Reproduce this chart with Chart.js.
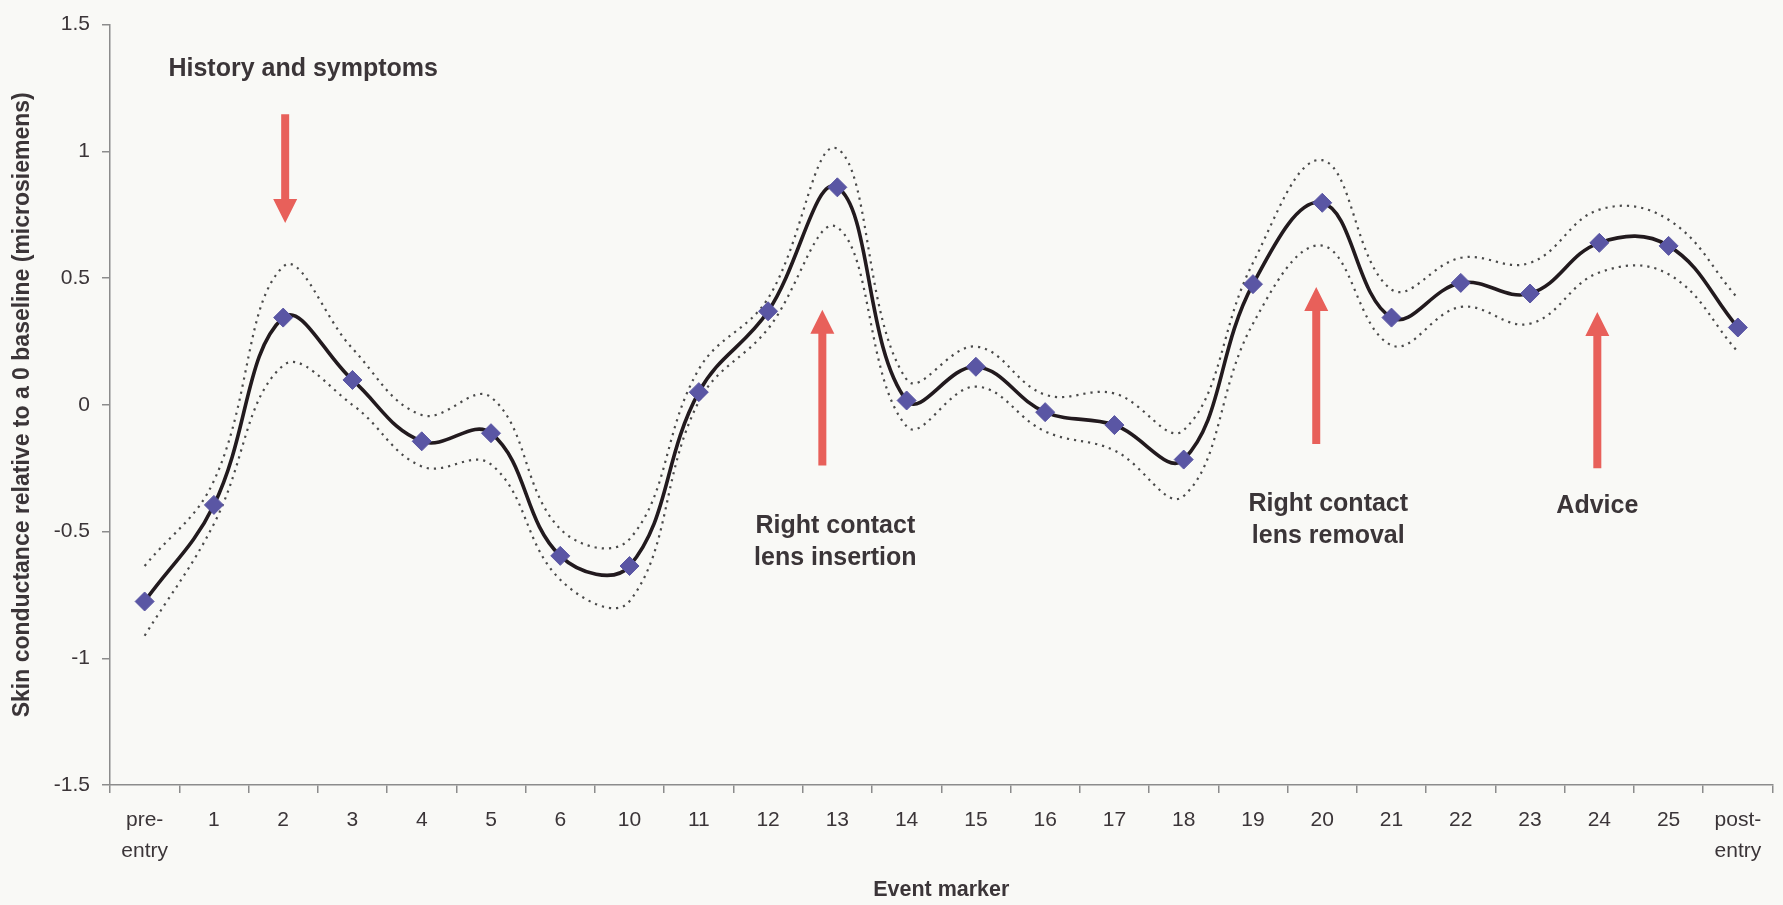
<!DOCTYPE html>
<html>
<head>
<meta charset="utf-8">
<title>Skin conductance by event marker</title>
<script src="https://cdn.jsdelivr.net/npm/chart.js@4.4.1/dist/chart.umd.min.js"></script>
<style>
  html, body { margin: 0; padding: 0; background: #f9f9f6; }
  #wrap { width: 1783px; height: 905px; position: relative; }
</style>
</head>
<body>
<div id="wrap"><canvas id="c" width="1783" height="905"></canvas></div>
<script>
// Event markers along the session
const categories = ['pre-entry', '1', '2', '3', '4', '5', '6', '10', '11', '12', '13', '14',
  '15', '16', '17', '18', '19', '20', '21', '22', '23', '24', '25', 'post-entry'];

// Mean skin conductance relative to a 0 baseline (microsiemens)
const conductance = [-0.776, -0.395, 0.344, 0.098, -0.144, -0.112, -0.596, -0.636, 0.050, 0.369,
  0.858, 0.017, 0.150, -0.029, -0.080, -0.216, 0.476, 0.797, 0.344, 0.481, 0.439, 0.639, 0.627, 0.305];

// Upper and lower confidence bounds
const upperBound = [-0.636, -0.300, 0.545, 0.222, -0.040, 0.030, -0.490, -0.530, 0.140, 0.420,
  1.010, 0.100, 0.230, 0.040, 0.045, -0.100, 0.560, 0.965, 0.455, 0.580, 0.560, 0.770, 0.730, 0.420];
const lowerBound = [-0.911, -0.470, 0.155, 0.000, -0.243, -0.235, -0.690, -0.775, 0.013, 0.300,
  0.700, -0.085, 0.072, -0.105, -0.180, -0.360, 0.320, 0.628, 0.235, 0.386, 0.320, 0.522, 0.515, 0.209];

// Value axis tick labels
const yTickValues = [-1.5, -1, -0.5, 0, 0.5, 1, 1.5];
const yTickLabels = ['-1.5', '-1', '-0.5', '0', '0.5', '1', '1.5'];

// Annotated events and the marker each one points at
const eventLabels = [['History and symptoms'], ['Right contact', 'lens insertion'],
  ['Right contact', 'lens removal'], ['Advice']];
const eventCategories = ['2', '13', '20', '24'];

const FONT = "'Liberation Sans', Arial, Helvetica, sans-serif";
const TEXT = '#3b3538';

// Arrow + caption layout for each event, in axis units (value) and pixel nudges
const eventLayout = [
  { dx: 2,   from: 1.146,  to: 0.717, textDx: 20, textValue: 1.325 },
  { dx: -15, from: -0.239, to: 0.375, textDx: -2, textValue: -0.478 },
  { dx: -6,  from: -0.155, to: 0.465, textDx: 6,  textValue: -0.392 },
  { dx: -2,  from: -0.250, to: 0.366, textDx: -2, textValue: -0.400 }
];

const background = {
  id: 'background',
  beforeDraw(chart) {
    const ctx = chart.ctx;
    ctx.save();
    ctx.fillStyle = '#f9f9f6';
    ctx.fillRect(0, 0, chart.width, chart.height);
    ctx.restore();
  }
};

const eventArrows = {
  id: 'eventArrows',
  afterDatasetsDraw(chart) {
    const { ctx, scales: { x, y } } = chart;
    ctx.save();
    eventCategories.forEach((cat, i) => {
      const lay = eventLayout[i];
      const cx = x.getPixelForValue(categories.indexOf(cat)) + lay.dx;
      const y0 = y.getPixelForValue(lay.from);
      const y1 = y.getPixelForValue(lay.to);
      const dir = Math.sign(y1 - y0);
      const headLen = 24, headHalf = 12, shaftHalf = 4;
      const yb = y1 - dir * headLen;
      ctx.fillStyle = '#e8605a';
      ctx.beginPath();
      ctx.moveTo(cx - shaftHalf, y0);
      ctx.lineTo(cx + shaftHalf, y0);
      ctx.lineTo(cx + shaftHalf, yb);
      ctx.lineTo(cx + headHalf, yb);
      ctx.lineTo(cx, y1);
      ctx.lineTo(cx - headHalf, yb);
      ctx.lineTo(cx - shaftHalf, yb);
      ctx.closePath();
      ctx.fill();

      const tx = x.getPixelForValue(categories.indexOf(cat)) + lay.textDx;
      const ty = y.getPixelForValue(lay.textValue);
      ctx.fillStyle = TEXT;
      ctx.font = 'bold 25px ' + FONT;
      ctx.textAlign = 'center';
      ctx.textBaseline = 'middle';
      eventLabels[i].forEach((line, k) => ctx.fillText(line, tx, ty + k * 32));
    });
    ctx.restore();
  }
};

new Chart(document.getElementById('c'), {
  type: 'line',
  data: {
    labels: categories,
    datasets: [
      {
        label: 'Skin conductance',
        data: conductance,
        borderColor: '#221a1e',
        borderWidth: 3.6,
        tension: 0.4,
        pointStyle: 'rectRot',
        pointRadius: 9.5,
        pointBackgroundColor: '#5a56a4',
        pointBorderColor: '#5a56a4',
        pointBorderWidth: 1,
        fill: false
      },
      {
        label: 'Upper bound',
        data: upperBound,
        borderColor: '#4a4a4a',
        borderWidth: 2.2,
        borderDash: [2.2, 5],
        tension: 0.4,
        pointRadius: 0,
        fill: false
      },
      {
        label: 'Lower bound',
        data: lowerBound,
        borderColor: '#4a4a4a',
        borderWidth: 2.2,
        borderDash: [2.2, 5],
        tension: 0.4,
        pointRadius: 0,
        fill: false
      }
    ]
  },
  options: {
    responsive: false,
    animation: false,
    devicePixelRatio: 1,
    layout: { padding: { top: 21.5, right: 0, bottom: 0, left: 0 } },
    plugins: {
      legend: { display: false },
      tooltip: { enabled: false }
    },
    scales: {
      x: {
        type: 'category',
        offset: true,
        grid: {
          display: true,
          drawOnChartArea: false,
          drawTicks: true,
          tickLength: 8,
          offset: true,
          color: '#8c8c8c',
          lineWidth: 1.5
        },
        border: { display: true, color: '#8c8c8c', width: 1.5 },
        ticks: {
          color: TEXT,
          font: { family: FONT, size: 21, lineHeight: 1.5 },
          padding: 11,
          maxRotation: 0,
          autoSkip: false,
          callback(value) {
            const name = categories[value];
            const cut = name.indexOf('-');
            return cut > 0 ? [name.slice(0, cut + 1), name.slice(cut + 1)] : name;
          }
        },
        title: {
          display: true,
          text: 'Event marker',
          color: TEXT,
          font: { family: FONT, size: 21.5, weight: 'bold', lineHeight: 1.2 },
          padding: { top: 0, bottom: 2 }
        },
        afterFit(scale) { scale.height = 120; }
      },
      y: {
        min: -1.5,
        max: 1.5,
        grid: {
          display: true,
          drawOnChartArea: false,
          drawTicks: true,
          tickLength: 8,
          color: '#8c8c8c',
          lineWidth: 1.5
        },
        border: { display: true, color: '#8c8c8c', width: 1.5 },
        ticks: {
          stepSize: 0.5,
          color: TEXT,
          font: { family: FONT, size: 21 },
          padding: 12,
          callback(value) {
            const k = yTickValues.findIndex(v => Math.abs(v - value) < 1e-9);
            return k >= 0 ? yTickLabels[k] : '';
          }
        },
        title: {
          display: true,
          text: 'Skin conductance relative to a 0 baseline (microsiemens)',
          color: TEXT,
          font: { family: FONT, size: 23, weight: 'bold', lineHeight: 1.2 },
          padding: { top: 9, bottom: 0 }
        },
        afterFit(scale) { scale.width = 110; }
      }
    }
  },
  plugins: [background, eventArrows]
});
</script>
</body>
</html>
